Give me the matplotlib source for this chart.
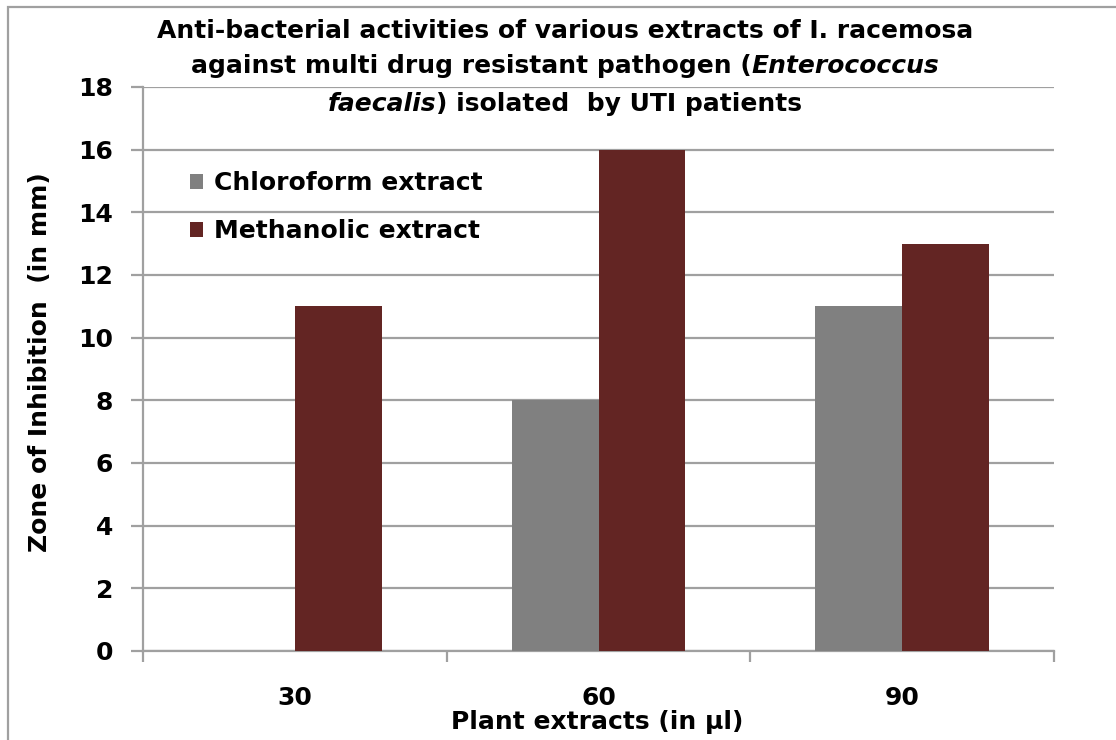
import matplotlib
matplotlib.use("Agg")
import matplotlib.pyplot as plt
import numpy as np

categories = ["30", "60", "90"]
chloroform = [0, 8, 11]
methanolic = [11, 16, 13]
series_names = ["Chloroform extract", "Methanolic extract"]
colors = ["#808080", "#632523"]
yticks = [0, 2, 4, 6, 8, 10, 12, 14, 16, 18]

plt.rcParams['font.family'] = ['DejaVu Sans']
plt.rcParams['font.weight'] = 'bold'
FS = 18

W, H = 1116, 740
fig = plt.figure(figsize=(W/100, H/100), dpi=100)
ax = fig.add_axes([143/W, 1-651/H, (1054-143)/W, (651-87)/H])

x = np.arange(len(categories))
bw = 1/3.5
ax.bar(x - bw/2, chloroform, bw, color=colors[0], label=series_names[0], zorder=3)
ax.bar(x + bw/2, methanolic, bw, color=colors[1], label=series_names[1], zorder=3)

ax.set_xlim(-0.5, 2.5)
ax.set_ylim(0, 18)
ax.set_yticks(yticks)
ax.set_yticklabels([str(v) for v in yticks], fontsize=FS, fontweight='bold')
ax.yaxis.grid(True, color='#a0a0a0', linewidth=1.6, zorder=0)
ax.set_axisbelow(True)
ax.set_xticks([-0.5, 0.5, 1.5, 2.5])
ax.set_xticklabels([])
ax.set_xticks(x, minor=True)
ax.set_xticklabels(categories, minor=True, fontsize=FS, fontweight='bold')
ax.tick_params(axis='x', which='minor', length=0, pad=25)
ax.tick_params(axis='x', which='major', length=8, width=1.6, color='#a0a0a0', direction='out')
ax.tick_params(axis='y', length=8.6, width=1.6, color='#a0a0a0', pad=13)
for s in ['top', 'right']:
    ax.spines[s].set_visible(False)
for s in ['left', 'bottom']:
    ax.spines[s].set_color('#a0a0a0')
    ax.spines[s].set_linewidth(1.6)

fig.text(40/W, 1-362/H, "Zone of Inhibition  (in mm)", rotation=90, ha='center', va='center',
         fontsize=FS, fontweight='bold')
fig.text(597/W, 1-722/H, "Plant extracts (in µl)", ha='center', va='center',
         fontsize=FS, fontweight='bold')

leg = ax.legend(loc='upper left', bbox_to_anchor=(34/911, 1-72/564), frameon=False,
                prop={'size': FS, 'weight': 'bold'}, handlelength=0.55, handleheight=0.55,
                handletextpad=0.45, labelspacing=0.95, borderpad=0)

renderer = fig.canvas.get_renderer()
title_lines = [
    [("Anti-bacterial activities of various extracts of I. racemosa", 'normal')],
    [("against multi drug resistant pathogen (", 'normal'), ("Enterococcus", 'italic')],
    [("faecalis", 'italic'), (") isolated  by UTI patients", 'normal')],
]
line_y = [31, 66, 104]
cx = 565
for parts, yy in zip(title_lines, line_y):
    texts = []
    for s, st in parts:
        t = fig.text(0, 1-yy/H, s, fontsize=FS, fontweight='bold', style=st,
                     ha='left', va='center')
        texts.append(t)
    widths = [t.get_window_extent(renderer).width for t in texts]
    total = sum(widths)
    xpos = cx - total/2
    for t, w in zip(texts, widths):
        t.set_x(xpos/W)
        xpos += w

fig.patches.append(plt.Rectangle((8/W, -0.05), 1.2, 1-7/H+0.05, transform=fig.transFigure,
                                 fill=False, edgecolor='#a0a0a0', linewidth=1.6))

fig.savefig("out.png", dpi=100)
